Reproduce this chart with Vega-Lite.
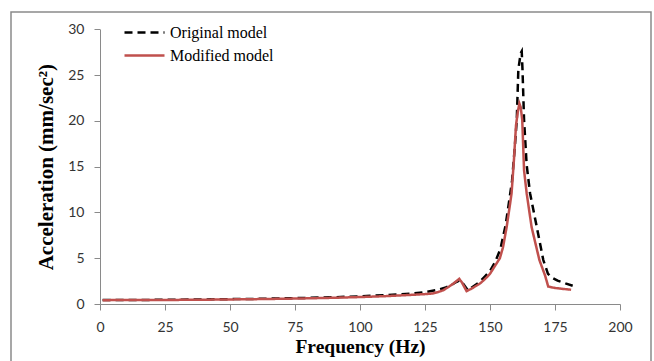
{
  "$schema": "https://vega.github.io/schema/vega-lite/v6.json",
  "width": 640,
  "height": 355,
  "autosize": {"type": "none"},
  "padding": {"top": 12, "left": 11, "right": 3, "bottom": 0},
  "background": "white",
  "config": {
    "view": {"stroke": "#8a8a8a", "strokeWidth": 1.5},
    "axis": {
      "domainColor": "#8a8a8a",
      "tickColor": "#8a8a8a",
      "grid": false,
      "labelFont": "Lato",
      "labelFontSize": 14,
      "labelColor": "#333333",
      "labelFlush": false,
      "titleFont": "Liberation Serif",
      "titleFontWeight": "bold",
      "titleColor": "#000000",
      "tickSize": 6
    }
  },
  "data": {
    "values": [
      {"model": "Original model", "f": 1, "a": 0.43},
      {"model": "Original model", "f": 10, "a": 0.44},
      {"model": "Original model", "f": 20, "a": 0.45},
      {"model": "Original model", "f": 30, "a": 0.47},
      {"model": "Original model", "f": 40, "a": 0.5},
      {"model": "Original model", "f": 50, "a": 0.53},
      {"model": "Original model", "f": 60, "a": 0.56},
      {"model": "Original model", "f": 70, "a": 0.61},
      {"model": "Original model", "f": 80, "a": 0.67},
      {"model": "Original model", "f": 90, "a": 0.74},
      {"model": "Original model", "f": 100, "a": 0.84},
      {"model": "Original model", "f": 110, "a": 0.97},
      {"model": "Original model", "f": 120, "a": 1.15},
      {"model": "Original model", "f": 125, "a": 1.3},
      {"model": "Original model", "f": 130, "a": 1.55},
      {"model": "Original model", "f": 133, "a": 1.8},
      {"model": "Original model", "f": 135, "a": 2.05},
      {"model": "Original model", "f": 137, "a": 2.4},
      {"model": "Original model", "f": 138.5, "a": 2.6},
      {"model": "Original model", "f": 139.5, "a": 2.3},
      {"model": "Original model", "f": 141.5, "a": 1.5},
      {"model": "Original model", "f": 143, "a": 1.8},
      {"model": "Original model", "f": 146, "a": 2.4},
      {"model": "Original model", "f": 148, "a": 3.0},
      {"model": "Original model", "f": 150, "a": 3.6},
      {"model": "Original model", "f": 152, "a": 4.6},
      {"model": "Original model", "f": 154, "a": 6.0},
      {"model": "Original model", "f": 156, "a": 8.6},
      {"model": "Original model", "f": 157.5, "a": 11.5},
      {"model": "Original model", "f": 158.5, "a": 13.5},
      {"model": "Original model", "f": 159.5, "a": 17},
      {"model": "Original model", "f": 160.3, "a": 20.1},
      {"model": "Original model", "f": 160.9, "a": 25.6},
      {"model": "Original model", "f": 161.8, "a": 27.4},
      {"model": "Original model", "f": 162.2, "a": 27.6},
      {"model": "Original model", "f": 162.5, "a": 25.6},
      {"model": "Original model", "f": 163.1, "a": 20.1},
      {"model": "Original model", "f": 164.1, "a": 15.2},
      {"model": "Original model", "f": 165.4, "a": 12.1},
      {"model": "Original model", "f": 168, "a": 8.4},
      {"model": "Original model", "f": 170.5, "a": 4.8},
      {"model": "Original model", "f": 172.3, "a": 3.3},
      {"model": "Original model", "f": 173.7, "a": 2.9},
      {"model": "Original model", "f": 176, "a": 2.55},
      {"model": "Original model", "f": 179, "a": 2.25},
      {"model": "Original model", "f": 181.8, "a": 2.0},
      {"model": "Modified model", "f": 1, "a": 0.42},
      {"model": "Modified model", "f": 10, "a": 0.43},
      {"model": "Modified model", "f": 20, "a": 0.44},
      {"model": "Modified model", "f": 30, "a": 0.45},
      {"model": "Modified model", "f": 40, "a": 0.47},
      {"model": "Modified model", "f": 50, "a": 0.5},
      {"model": "Modified model", "f": 60, "a": 0.53},
      {"model": "Modified model", "f": 70, "a": 0.57},
      {"model": "Modified model", "f": 80, "a": 0.62},
      {"model": "Modified model", "f": 90, "a": 0.68},
      {"model": "Modified model", "f": 100, "a": 0.76},
      {"model": "Modified model", "f": 110, "a": 0.86},
      {"model": "Modified model", "f": 120, "a": 1.0},
      {"model": "Modified model", "f": 125, "a": 1.08},
      {"model": "Modified model", "f": 128, "a": 1.15},
      {"model": "Modified model", "f": 130, "a": 1.3},
      {"model": "Modified model", "f": 132, "a": 1.5},
      {"model": "Modified model", "f": 134, "a": 1.85},
      {"model": "Modified model", "f": 136, "a": 2.25},
      {"model": "Modified model", "f": 138.2, "a": 2.75},
      {"model": "Modified model", "f": 139.2, "a": 2.35},
      {"model": "Modified model", "f": 141, "a": 1.4},
      {"model": "Modified model", "f": 143, "a": 1.7},
      {"model": "Modified model", "f": 146, "a": 2.2},
      {"model": "Modified model", "f": 148, "a": 2.7},
      {"model": "Modified model", "f": 150, "a": 3.3},
      {"model": "Modified model", "f": 152, "a": 4.2},
      {"model": "Modified model", "f": 153.8, "a": 5.0},
      {"model": "Modified model", "f": 155, "a": 6.2},
      {"model": "Modified model", "f": 156.4, "a": 8.4},
      {"model": "Modified model", "f": 157.5, "a": 10.5},
      {"model": "Modified model", "f": 158.3, "a": 12.1},
      {"model": "Modified model", "f": 159.2, "a": 15.7},
      {"model": "Modified model", "f": 160, "a": 19.5},
      {"model": "Modified model", "f": 160.7, "a": 21.0},
      {"model": "Modified model", "f": 161.3, "a": 21.9},
      {"model": "Modified model", "f": 161.8, "a": 21.5},
      {"model": "Modified model", "f": 162.4, "a": 20.1},
      {"model": "Modified model", "f": 163.1, "a": 14.6},
      {"model": "Modified model", "f": 164.1, "a": 12.1},
      {"model": "Modified model", "f": 166, "a": 8.4},
      {"model": "Modified model", "f": 169, "a": 4.8},
      {"model": "Modified model", "f": 171.2, "a": 3.1},
      {"model": "Modified model", "f": 172.4, "a": 1.9},
      {"model": "Modified model", "f": 175, "a": 1.75},
      {"model": "Modified model", "f": 178, "a": 1.65},
      {"model": "Modified model", "f": 181.2, "a": 1.56}
    ]
  },
  "mark": {"type": "line", "strokeWidth": 2.5},
  "encoding": {
    "x": {
      "field": "f",
      "type": "quantitative",
      "scale": {"domain": [0, 200], "range": [89, 609], "nice": false},
      "axis": {
        "title": "Frequency (Hz)",
        "values": [0, 25, 50, 75, 100, 125, 150, 175, 200],
        "offset": -63,
        "labelPadding": 10,
        "titlePadding": 3,
        "titleFontSize": 19.5
      }
    },
    "y": {
      "field": "a",
      "type": "quantitative",
      "scale": {"domain": [0, 30], "range": [292, 17.3], "nice": false, "zero": false},
      "axis": {
        "title": "Acceleration (mm/sec²)",
        "values": [0, 5, 10, 15, 20, 25, 30],
        "offset": -89,
        "labelPadding": 10,
        "titlePadding": 11,
        "titleFontSize": 21
      }
    },
    "color": {
      "field": "model",
      "type": "nominal",
      "scale": {"domain": ["Original model", "Modified model"], "range": ["#000000", "#c0504d"]},
      "legend": {
        "title": null,
        "orient": "none",
        "legendX": 122,
        "legendY": 9,
        "symbolType": "M-2,0H2",
        "symbolSize": 400,
        "symbolStrokeWidth": 2.5,
        "labelFont": "Liberation Serif",
        "labelFontSize": 16,
        "labelColor": "#000000",
        "labelOffset": 14,
        "rowPadding": 3,
        "padding": 0
      }
    },
    "strokeDash": {
      "field": "model",
      "type": "nominal",
      "scale": {"domain": ["Original model", "Modified model"], "range": [[8, 5], [1, 0]]},
      "legend": null
    },
    "order": {"field": "f", "type": "quantitative"}
  }
}
